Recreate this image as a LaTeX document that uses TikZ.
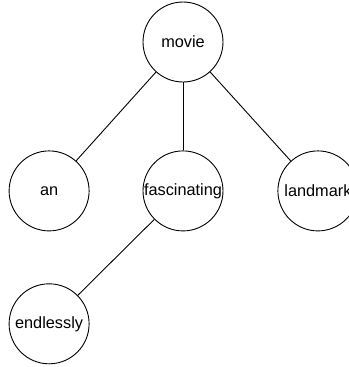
\documentclass[tikz,border=0pt]{standalone}
\usepackage{fontspec}
\setmainfont{Liberation Sans}
\usetikzlibrary{positioning}

\begin{document}
\begin{tikzpicture}[
        x=1bp, y=1bp,
        word/.style={circle, draw=black, line width=0.9bp, minimum size=80bp, inner sep=0pt,
                     font=\fontsize{16.3bp}{19bp}\selectfont},
        link/.style={-, line width=0.9bp}
      ]
        \useasboundingbox (0,0) rectangle (349,-367);

        \node (movie) [word] at (183,-42) {movie};

        \node (fascinating) [word, below=68bp of movie] {fascinating};
        \node (an) [word, left=53bp of fascinating] {an};
        \node (landmark) [word, right=54bp of fascinating] {landmark};

        \node (endlessly) [word, below=52bp of an] {endlessly};

        \draw[link] (movie) -- (an);
        \draw[link] (movie) -- (fascinating);
        \draw[link] (movie) -- (landmark);
        \draw[link] (fascinating) -- (endlessly);
      \end{tikzpicture}
\end{document}
